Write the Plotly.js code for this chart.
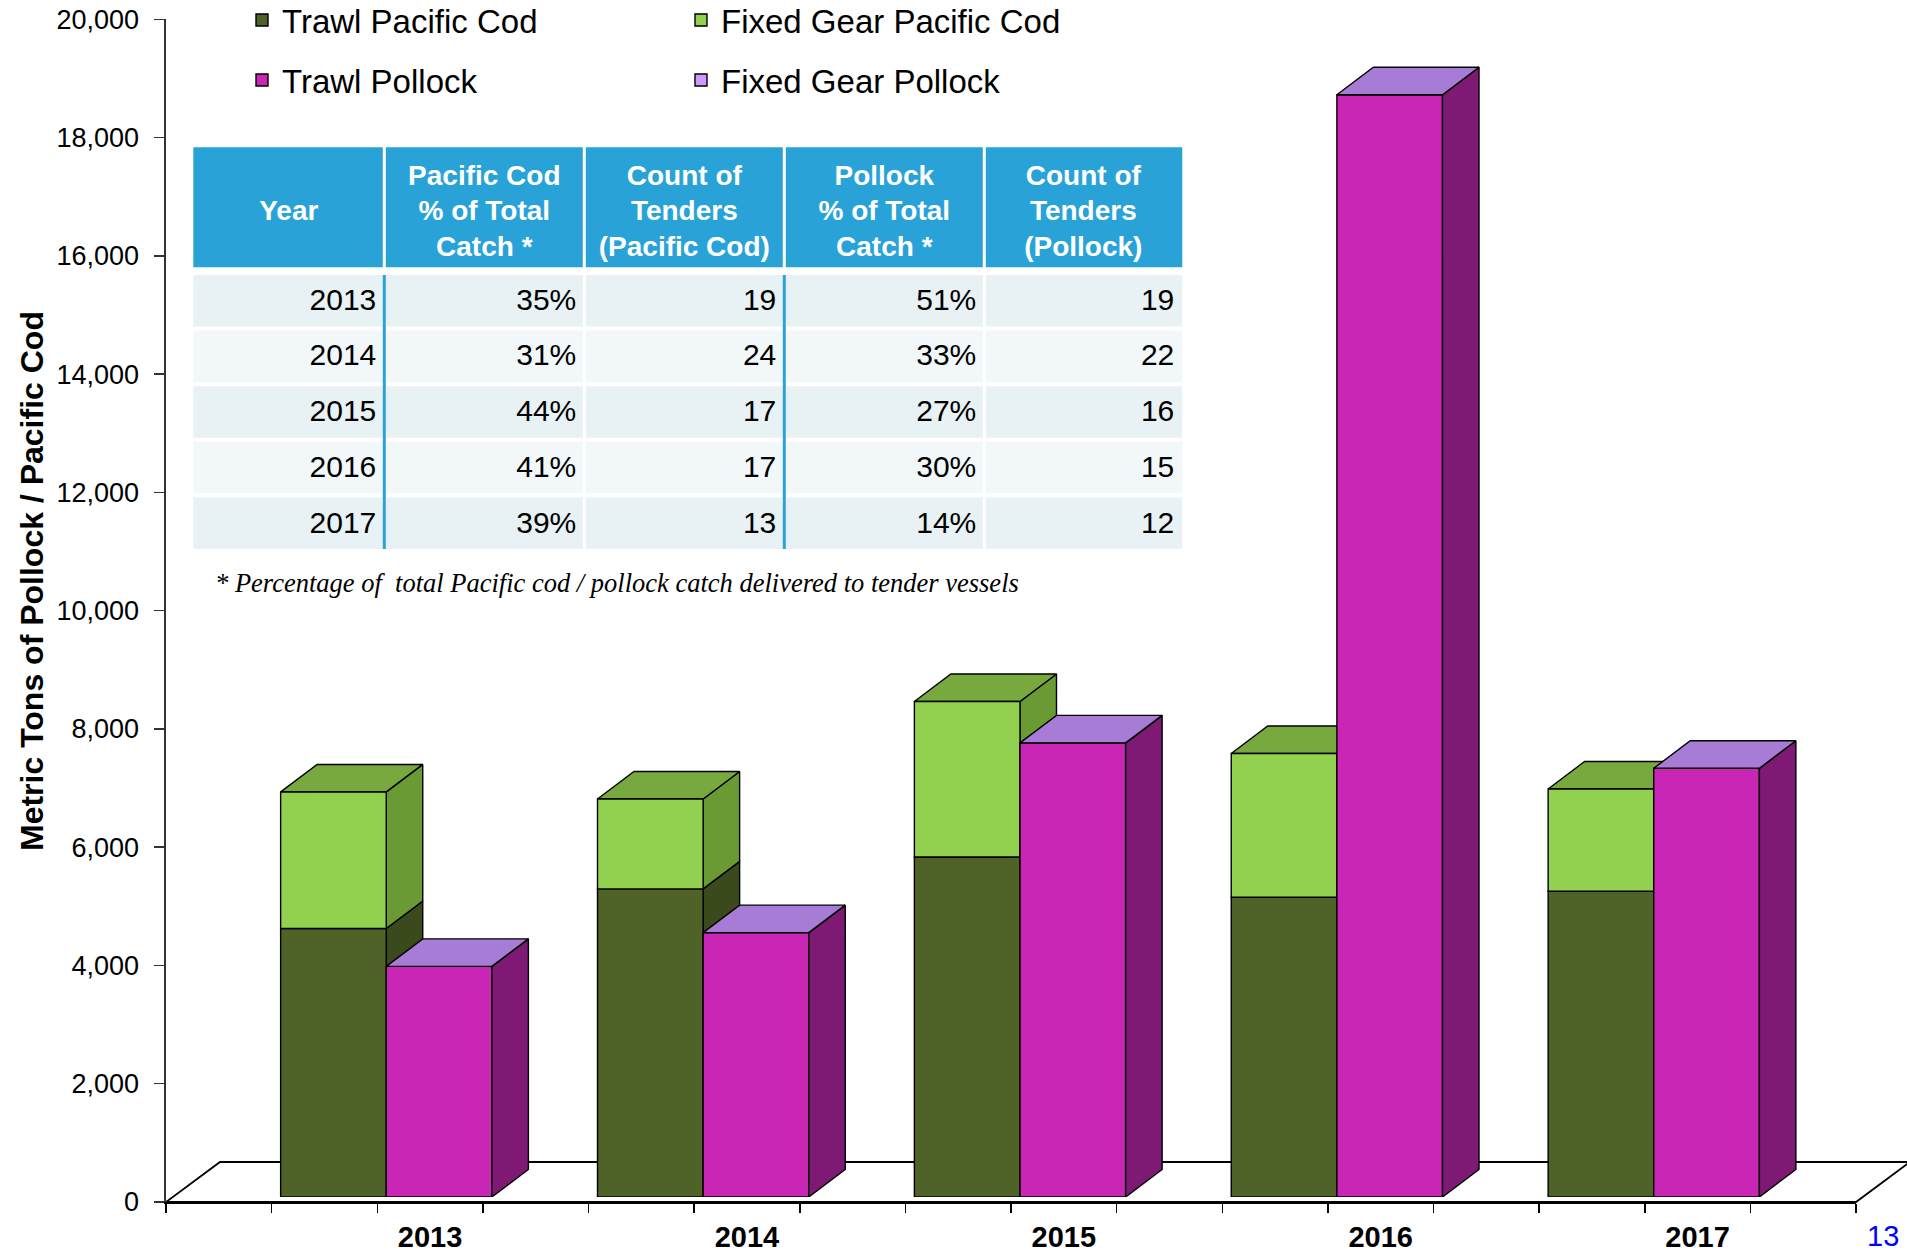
<!DOCTYPE html>
<html>
<head>
<meta charset="utf-8">
<script src="https://cdn.plot.ly/plotly-3.0.1.min.js"></script>
<style>
html,body{margin:0;padding:0;background:#fff;}
#chart{width:1907px;height:1255px;}
</style>
</head>
<body>
<div id="chart"></div>
<script>
// ---------------- data ----------------
const years = [2013, 2014, 2015, 2016, 2017];
const trawlCod = [4540, 5210, 5750, 5070, 5170];
const fixedGearCod = [2310, 1520, 2630, 2430, 1730];
const trawlPollock = [3900, 4470, 7680, 18640, 7250];
const fixedGearPollock = [0, 0, 0, 0, 0];

// table (header lines per column)
const headerYear = ['', 'Year', ''];
const headerCodPct = ['Pacific Cod', '% of Total', 'Catch *'];
const headerCodCount = ['Count of', 'Tenders', '(Pacific Cod)'];
const headerPolPct = ['Pollock', '% of Total', 'Catch *'];
const headerPolCount = ['Count of', 'Tenders', '(Pollock)'];
const codPctOfCatch = [35, 31, 44, 41, 39];
const codTenderCount = [19, 24, 17, 17, 13];
const pollockPctOfCatch = [51, 33, 27, 30, 14];
const pollockTenderCount = [19, 22, 16, 15, 12];
const columnWidths = [191, 200, 200, 200, 198];

const yTitle = 'Metric Tons of Pollock / Pacific Cod';
const footnote = '* Percentage of\u00a0 total Pacific cod / pollock catch delivered to tender vessels';
const pageNumber = '13';

// ---------------- geometry / style ----------------
const W = 1907, H = 1255;
const M = {l: 160, r: 37, t: 10, b: 50};
const PW = W - M.l - M.r, PH = H - M.t - M.b;
const px = p => (p - M.l) / PW;
const py = p => (H - M.b - p) / PH;

const AX = {left: 166, right: 1856, bottom: 1202, top: 19.3};
const SHIFT = {dx: 9, dy: 5};          // bars set back from the floor edge
const DEPTH = {dx: 36.5, dy: 27.5};     // 3-D depth of bars (px)
const FLOOR = {dx: 54, dy: 40};         // 3-D depth of floor (px)
const SLOTS = 16, YMAX = 20000;
const slotPx = (AX.right - AX.left) / SLOTS;
const unitPx = (AX.bottom - AX.top) / YMAX;
const DX = DEPTH.dx / slotPx, DY = DEPTH.dy / unitPx;

const SANS = 'Liberation Sans, Arial, sans-serif';
const SERIF = 'Liberation Serif, Times New Roman, serif';

const C = {
  trawlCod: '#4F6228', trawlCodSide: '#3A4A1C',
  fixedCod: '#92D050', fixedCodSide: '#6A9A34', fixedCodTop: '#78A93E',
  trawlPol: '#CA26B6', trawlPolSide: '#7E1A74',
  fixedPol: '#CC99FF', fixedPolSide: '#7E5CA0', fixedPolTop: '#A77CD6',
  header: '#29A3D7', rowA: '#E8F2F4', rowB: '#F2F8FA'
};

const codX = years.map((_, i) => 3 * i + 1.5);
const polX = years.map((_, i) => 3 * i + 2.5);
const labelX = years.map((_, i) => 3 * i + 2.5);

const codTotal = trawlCod.map((v, i) => v + fixedGearCod[i]);
const polTotal = trawlPollock.map((v, i) => v + fixedGearPollock[i]);
const zeros = years.map(() => 0);

function sideFace(xc, base, top) {
  const xs = [], ys = [];
  xc.forEach((x, i) => {
    const xr = x + 0.5, b = base[i], t = top[i];
    xs.push(xr, xr + DX, xr + DX, xr, xr, null);
    ys.push(b, b + DY, t + DY, t, b, null);
  });
  return {xs, ys};
}
function topFace(xc, top) {
  const xs = [], ys = [];
  xc.forEach((x, i) => {
    const xl = x - 0.5, xr = x + 0.5, t = top[i];
    xs.push(xl, xl + DX, xr + DX, xr, xl, null);
    ys.push(t, t + DY, t + DY, t, t, null);
  });
  return {xs, ys};
}
function faceTrace(poly, color, xa, ya) {
  return {type: 'scatter', mode: 'lines', x: poly.xs, y: poly.ys, fill: 'toself',
    fillcolor: color, line: {color: '#000', width: 1.4}, hoverinfo: 'skip',
    showlegend: false, xaxis: xa, yaxis: ya};
}

const traces = [];
traces.push({type: 'scatter', x: [0], y: [0], mode: 'none', showlegend: false, hoverinfo: 'skip', xaxis: 'x', yaxis: 'y'});
// cod faces (behind)
traces.push(faceTrace(sideFace(codX, zeros, trawlCod), C.trawlCodSide, 'x2', 'y2'));
traces.push(faceTrace(sideFace(codX, trawlCod, codTotal), C.fixedCodSide, 'x2', 'y2'));
traces.push(faceTrace(topFace(codX, codTotal), C.fixedCodTop, 'x2', 'y2'));
// front faces
const barLine = {color: '#000', width: 1.4};
traces.push({type: 'bar', name: 'Trawl Pacific Cod', x: codX, y: trawlCod, width: 1,
  marker: {color: C.trawlCod, line: barLine}, xaxis: 'x3', yaxis: 'y3', legend: 'legend', hoverinfo: 'skip'});
traces.push({type: 'bar', name: 'Fixed Gear Pacific Cod', x: codX, y: fixedGearCod, base: trawlCod, width: 1,
  marker: {color: C.fixedCod, line: barLine}, xaxis: 'x3', yaxis: 'y3', legend: 'legend', hoverinfo: 'skip'});
traces.push({type: 'bar', name: 'Trawl Pollock', x: polX, y: trawlPollock, width: 1,
  marker: {color: C.trawlPol, line: barLine}, xaxis: 'x3', yaxis: 'y3', legend: 'legend2', hoverinfo: 'skip'});
traces.push({type: 'bar', name: 'Fixed Gear Pollock', x: polX, y: fixedGearPollock, base: trawlPollock, width: 1,
  marker: {color: C.fixedPol, line: barLine}, xaxis: 'x3', yaxis: 'y3', legend: 'legend2', hoverinfo: 'skip'});
// pollock faces (in front)
traces.push(faceTrace(sideFace(polX, zeros, trawlPollock), C.trawlPolSide, 'x3', 'y3'));
traces.push(faceTrace(sideFace(polX, trawlPollock, polTotal), C.fixedPolSide, 'x3', 'y3'));
traces.push(faceTrace(topFace(polX, polTotal), C.fixedPolTop, 'x3', 'y3'));

// ---------------- table ----------------
const TBL = {left: 193.3, headTop: 147.3, headBottom: 267.3, bodyTop: 275, rowPitch: 55.6, rowH: 51.5,
  headTextTop: 155.5, headRowH: 35.5, bodyTextTop: 263, cellH: 55.75, gap: 1.5};
const colEdges = [TBL.left];
columnWidths.forEach(w => colEdges.push(colEdges[colEdges.length - 1] + w));
const TBL_RIGHT = colEdges[colEdges.length - 1];
const clear = 'rgba(0,0,0,0)';

// header rows
traces.push({
  type: 'table',
  domain: {x: [px(TBL.left), px(TBL_RIGHT)], y: [py(TBL.headTextTop + 3 * TBL.headRowH + 6), py(TBL.headTextTop)]},
  columnwidth: columnWidths,
  header: {
    values: [headerYear, headerCodPct, headerCodCount, headerPolPct, headerPolCount], align: 'center', height: TBL.headRowH,
    fill: {color: clear}, line: {color: clear, width: 0},
    font: {family: SANS, size: 28, color: '#fff', weight: 'bold'}
  },
  cells: {values: [], fill: {color: clear}, line: {color: clear, width: 0}}
});
// body rows
traces.push({
  type: 'table',
  domain: {x: [px(TBL.left), px(TBL_RIGHT)], y: [py(TBL.bodyTextTop + years.length * TBL.cellH + 20), py(TBL.bodyTextTop)]},
  columnwidth: columnWidths,
  header: {values: [], height: 0, fill: {color: clear}, line: {color: clear, width: 0}},
  cells: {
    values: [years, codPctOfCatch, codTenderCount, pollockPctOfCatch, pollockTenderCount],
    suffix: ['', '%', '', '%', ''],
    align: 'right', height: TBL.cellH,
    fill: {color: clear}, line: {color: clear, width: 0},
    font: {family: SANS, size: 30, color: '#000'}
  }
});

const shapes = [];
const floorPts = [
  [AX.left, AX.bottom], [AX.right, AX.bottom],
  [AX.right + FLOOR.dx, AX.bottom - FLOOR.dy], [AX.left + FLOOR.dx, AX.bottom - FLOOR.dy]
];
shapes.push({type: 'path', xref: 'paper', yref: 'paper', path: 'M' + floorPts.map(p => px(p[0]) + ',' + py(p[1])).join(' L') + ' Z',
  fillcolor: '#fff', line: {color: '#000', width: 1.8}, layer: 'below'});
// table backgrounds
const ncol = columnWidths.length;
for (let c = 0; c < ncol; c++) {
  const x0 = colEdges[c] + (c > 0 ? TBL.gap : 0), x1 = colEdges[c + 1] - (c < ncol - 1 ? TBL.gap : 0);
  shapes.push({type: 'rect', xref: 'paper', yref: 'paper', x0: px(x0), x1: px(x1), y0: py(TBL.headBottom), y1: py(TBL.headTop),
    fillcolor: C.header, line: {width: 0}, layer: 'below'});
  years.forEach((_, r) => {
    const top = TBL.bodyTop + r * TBL.rowPitch;
    shapes.push({type: 'rect', xref: 'paper', yref: 'paper', x0: px(x0), x1: px(x1), y0: py(top + TBL.rowH), y1: py(top),
      fillcolor: r % 2 === 0 ? C.rowA : C.rowB, line: {width: 0}, layer: 'below'});
  });
}
const bodyBottom = TBL.bodyTop + (years.length - 1) * TBL.rowPitch + TBL.rowH;
[1, 3].forEach(c => {
  shapes.push({type: 'line', xref: 'paper', yref: 'paper', x0: px(colEdges[c]), x1: px(colEdges[c]), y0: py(TBL.bodyTop), y1: py(bodyBottom),
    line: {color: C.header, width: 3}, layer: 'below'});
});

const legendCommon = {
  orientation: 'h', xanchor: 'left', yanchor: 'middle', x: px(242),
  font: {family: SANS, size: 33, color: '#000'}, bgcolor: clear,
  entrywidth: 394, entrywidthmode: 'pixels', traceorder: 'normal', itemclick: false, itemdoubleclick: false
};

const layout = {
  width: W, height: H, margin: Object.assign({autoexpand: false}, M),
  paper_bgcolor: '#fff', plot_bgcolor: clear,
  barmode: 'overlay', hovermode: false, showlegend: true,
  font: {family: SANS, color: '#000'},
  xaxis: {
    domain: [px(AX.left), px(AX.right)], range: [0, SLOTS], anchor: 'y',
    showline: true, linecolor: '#000', linewidth: 2, showgrid: false, zeroline: false,
    tickmode: 'array', tickvals: labelX, ticktext: years.map(String), ticks: '',
    tickfont: {family: SANS, size: 29, weight: 'bold', color: '#000'}, ticklabelstandoff: 8,
    minor: {tickmode: 'linear', tick0: 0, dtick: 1, ticks: 'outside', ticklen: 9, tickwidth: 1.5, tickcolor: '#000', showgrid: false},
    fixedrange: true
  },
  yaxis: {
    domain: [py(AX.bottom), py(AX.top)], range: [0, YMAX], anchor: 'x',
    showline: true, linecolor: '#333', linewidth: 2.5, showgrid: false, zeroline: false,
    ticks: 'outside', ticklen: 10, tickwidth: 1.5, tickcolor: '#333',
    tickmode: 'linear', tick0: 0, dtick: 2000, tickformat: ',d',
    tickfont: {family: SANS, size: 27, color: '#000'}, ticklabelstandoff: 9,
    fixedrange: true
  },
  xaxis2: {domain: [px(AX.left + SHIFT.dx), px(AX.right + SHIFT.dx)], range: [0, SLOTS], anchor: 'y2', visible: false, fixedrange: true},
  yaxis2: {domain: [py(AX.bottom - SHIFT.dy), py(AX.top - SHIFT.dy)], range: [0, YMAX], anchor: 'x2', visible: false, fixedrange: true},
  xaxis3: {overlaying: 'x2', range: [0, SLOTS], anchor: 'y3', visible: false, fixedrange: true},
  yaxis3: {overlaying: 'y2', range: [0, YMAX], anchor: 'x3', visible: false, fixedrange: true},
  legend: Object.assign({}, legendCommon, {y: py(20)}),
  legend2: Object.assign({}, legendCommon, {y: py(80)}),
  shapes: shapes,
  annotations: [
    {text: yTitle, xref: 'paper', yref: 'paper', x: px(32), y: py(581), xanchor: 'center', yanchor: 'middle', textangle: -90, showarrow: false,
      font: {family: SANS, size: 32, weight: 'bold', color: '#000'}},
    {text: footnote, xref: 'paper', yref: 'paper', x: px(213), y: py(583), xanchor: 'left', yanchor: 'middle', showarrow: false,
      font: {family: SERIF, size: 26.5, style: 'italic', color: '#000'}},
    {text: pageNumber, xref: 'paper', yref: 'paper', x: px(1883), y: py(1236), xanchor: 'center', yanchor: 'middle', showarrow: false,
      font: {family: SANS, size: 29, color: '#0000FF'}}
  ]
};

Plotly.newPlot('chart', traces, layout, {staticPlot: true, displayModeBar: false});
</script>
</body>
</html>
